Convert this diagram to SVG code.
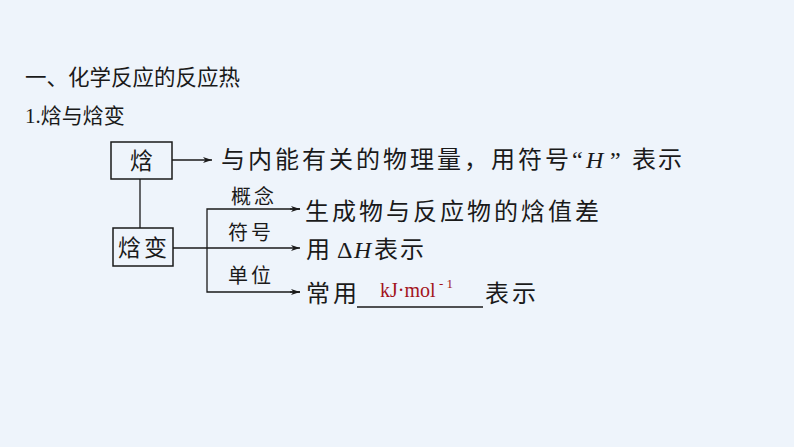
<svg xmlns="http://www.w3.org/2000/svg" width="794" height="447" viewBox="0 0 794 447">
<style>
.bg{fill:#eef4fb}
.box{fill:none;stroke:#1a1a1a;stroke-width:1.5}
.ln{fill:none;stroke:#1a1a1a;stroke-width:1.3}
.cjk{font-family:"Noto Sans CJK SC",sans-serif;fill:#1a1a1a}
.ser{font-family:"Liberation Serif","Noto Sans CJK SC",serif;fill:#1a1a1a}
.main{font-size:24px;letter-spacing:3px}
.lab{font-size:20px;letter-spacing:3px}
.red{font-family:"Liberation Serif",serif;fill:#a3141c}
</style>
<defs>
<marker id="ah" markerWidth="10" markerHeight="8" refX="9" refY="4" orient="auto" markerUnits="userSpaceOnUse">
<path d="M0,1 L9,4 L0,7 L2.5,4 z" fill="#1a1a1a"/>
</marker>
</defs>
<rect class="bg" x="0" y="0" width="794" height="447"/>
<g id="title">
<text class="cjk" x="25" y="85" font-size="21.5">一、化学反应的反应热</text>
<text x="25" y="123" font-size="21"><tspan class="ser">1.</tspan><tspan class="cjk">焓与焓变</tspan></text>
</g>
<g id="connectors">
<line class="ln" x1="172" y1="160" x2="212" y2="160" marker-end="url(#ah)"/>
<line class="ln" x1="140" y1="179" x2="140" y2="228"/>
<line class="ln" x1="173" y1="248" x2="300" y2="248" marker-end="url(#ah)"/>
<polyline class="ln" points="300,209 207,209 207,292 300,292"/>
<line class="ln" x1="290" y1="209" x2="300" y2="209" marker-end="url(#ah)"/>
<line class="ln" x1="290" y1="292" x2="300" y2="292" marker-end="url(#ah)"/>
</g>
<g id="node-han">
<rect class="box" x="111" y="142" width="61" height="37"/>
<text class="cjk" x="141.5" y="169" font-size="23" text-anchor="middle">焓</text>
</g>
<g id="node-hanbian">
<rect class="box" x="113" y="228" width="60" height="38"/>
<text class="cjk" x="118" y="256" font-size="23" letter-spacing="3">焓变</text>
</g>
<g id="line1">
<text class="cjk main" x="221" y="168" letter-spacing="2.3">与内能有关的物理量，用符号<tspan class="ser" x="572" letter-spacing="0">“</tspan><tspan class="ser" x="586" letter-spacing="0" font-style="italic">H</tspan><tspan class="ser" x="610" letter-spacing="0">”</tspan><tspan x="632" letter-spacing="2">表示</tspan></text>
</g>
<g id="labels">
<text class="cjk lab" x="231" y="204">概念</text>
<text class="cjk lab" x="228" y="240">符号</text>
<text class="cjk lab" x="228" y="283">单位</text>
</g>
<g id="line2">
<text class="cjk main" x="305" y="220">生成物与反应物的焓值差</text>
</g>
<g id="line3">
<text class="cjk main" x="306" y="258">用<tspan class="ser" x="337" letter-spacing="0">Δ</tspan><tspan class="ser" x="354" letter-spacing="0" font-style="italic">H</tspan><tspan x="374" letter-spacing="2">表示</tspan></text>
</g>
<g id="line4">
<text class="cjk main" x="306" y="302">常用</text>
<line x1="357" y1="307" x2="483" y2="307" stroke="#1a1a1a" stroke-width="1.3"/>
<text class="red" x="380" y="297" font-size="20">kJ·mol<tspan x="439" y="288" font-size="13">- 1</tspan></text>
<text class="cjk main" x="485" y="302" letter-spacing="2">表示</text>
</g>
</svg>
